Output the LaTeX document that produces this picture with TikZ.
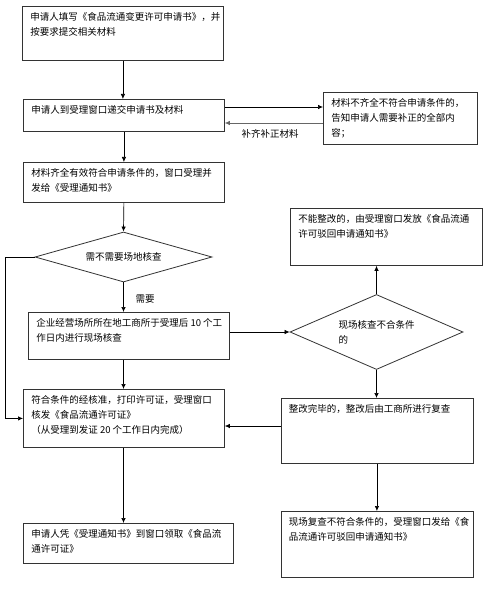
\documentclass[tikz,border=0pt]{standalone}
\usepackage{fontspec}
\setmainfont{Noto Sans CJK SC}
\usetikzlibrary{arrows.meta,shapes.geometric,calc}
\newcommand{\bx}[3]{\parbox[t][#2pt][t]{#1pt}{\raggedright\baselineskip=15pt #3}}
\begin{document}
\begin{tikzpicture}[x=1pt,y=-1pt,
  every node/.style={font=\fontsize{9.5pt}{15pt}\selectfont},
  box/.style={draw=black!80,line width=0.8pt,anchor=north west,inner xsep=8pt,inner ysep=6pt},
  dia/.style={draw=black!80,line width=0.8pt,diamond,inner sep=0pt,align=left},
  arr/.style={draw=black,line width=0.7pt,-{Latex[length=5pt,width=4.5pt]}},
  lbl/.style={inner sep=1pt}]
\fill[white] (0,0) rectangle (499,604);
\useasboundingbox (0,0) rectangle (499,604);

\node[box] (b1) at (22,6) {\bx{185}{42}{申请人填写《食品流通变更许可申请书》，并\\按要求提交相关材料}};
\node[box] (b2) at (23,99) {\bx{185}{20}{申请人到受理窗口递交申请书及材料}};
\node[box] (b3) at (323,92) {\bx{138}{40}{材料不齐全不符合申请条件的，\\告知申请人需要补正的全部内\\容；}};
\node[box] (b4) at (23,162) {\bx{185}{28}{材料齐全有效符合申请条件的，窗口受理并\\发给《受理通知书》}};
\node[dia,minimum width=177pt,minimum height=50pt,shape aspect=3.54] (d1) at (123.5,257) {需不需要场地核查};
\node[box] (b5) at (28,312) {\bx{185}{35}{\mbox{企业经营场所所在地工商所于受理后 10 个工}\\作日内进行现场核查}};
\node[dia,minimum width=173pt,minimum height=75pt,shape aspect=2.31] (d2) at (376.5,332) {现场核查不合条件\\的};
\node[box] (b7) at (290,208) {\bx{176}{45}{不能整改的，由受理窗口发放《食品流通\\许可驳回申请通知书》}};
\node[box] (b6) at (23,389) {\bx{185}{46}{符合条件的经核准，打印许可证，受理窗口\\核发《食品流通许可证》\\\mbox{（从受理到发证 20 个工作日内完成）}}};
\node[box] (b8) at (280.5,398) {\bx{176}{53}{整改完毕的，整改后由工商所进行复查}};
\node[box] (b9) at (23,523) {\bx{194}{28}{申请人凭《受理通知书》到窗口领取《食品流\\通许可证》}};
\node[box] (b10) at (280.5,511) {\bx{176}{54}{现场复查不符合条件的，受理窗口发给《食\\品流通许可驳回申请通知书》}};

\node[lbl] (l1) at (270,134) {补齐补正材料};
\node[lbl] (l2) at (145,299) {需要};

\draw[arr] (b1.south) -- (b1.south |- b2.north);
\draw[arr] ($(b2.north east)+(0,8)$) -- (b3.west |- {$(b2.north east)+(0,8)$});
\draw[arr,draw=black!60] ($(b3.north west)+(0,31)$) -- (b2.east |- {$(b3.north west)+(0,31)$});
\draw[arr] (b2.south) -- (b2.south |- b4.north);
\draw[arr] (b4.south) -- (d1.north);
\draw[arr] (d1.west) -- ++(-29.5,0) |- (b6.west);
\draw[arr] (d1.south) -- (d1.south |- b5.north);
\draw[arr] (b5.east |- d2.west) -- (d2.west);
\draw[arr] (d2.north) -- (d2.north |- b7.south);
\draw[arr] (d2.south) -- (d2.south |- b8.north);
\draw[arr] ($(b8.north west)+(0,28)$) -- (b6.east |- {$(b8.north west)+(0,28)$});
\draw[arr] (d1.south |- b5.south) -- (d1.south |- b6.north);
\draw[arr] (d1.south |- b6.south) -- (d1.south |- b9.north);
\draw[arr] (b8.south) -- (b8.south |- b10.north);
\end{tikzpicture}
\end{document}
